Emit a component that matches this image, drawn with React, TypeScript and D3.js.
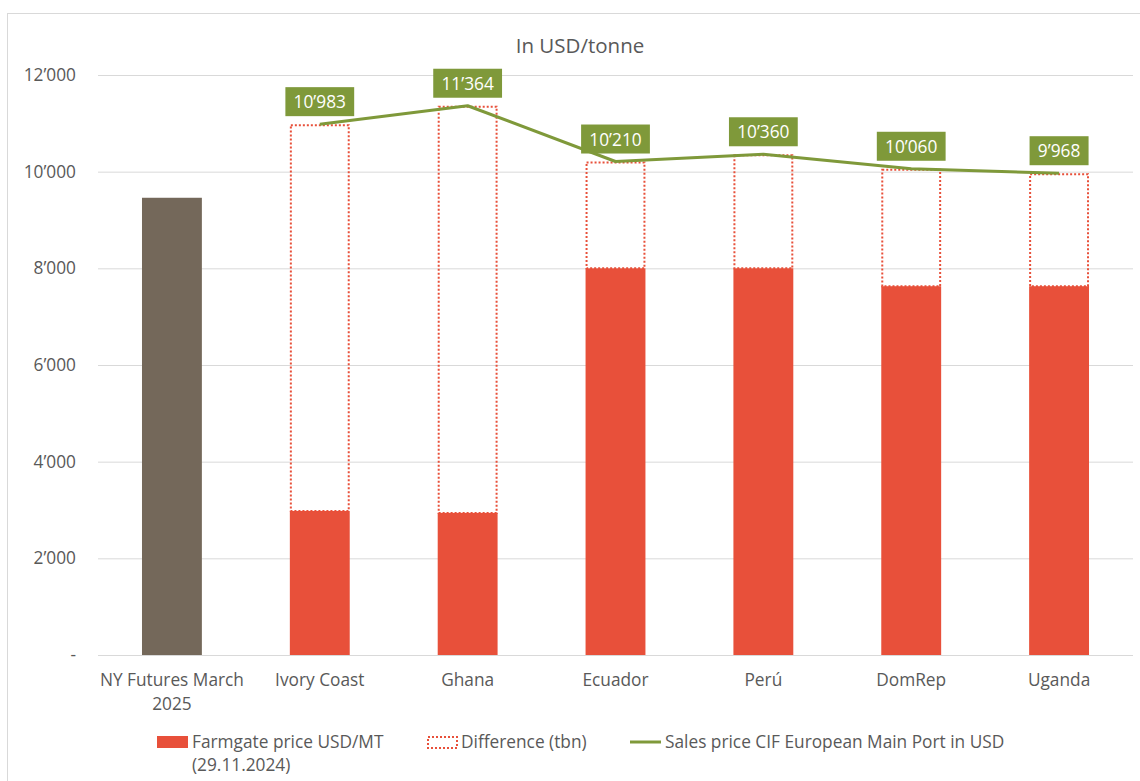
import React from "react";
import * as d3 from "d3";

// categories and values
const categories = ["NY Futures March 2025", "Ivory Coast", "Ghana", "Ecuador", "Perú", "DomRep", "Uganda"];
const futures = [9460, null, null, null, null, null, null];
const farmgate = [null, 2980, 2940, 8000, 8000, 7630, 7630];
const salesPrice = [null, 10983, 11364, 10210, 10360, 10060, 9968];
const yTicks = [0, 2000, 4000, 6000, 8000, 10000, 12000];

const W = 1140, H = 781;
const margin = { left: 98, right: 7, top: 75, bottom: 126 };

const red = "#e8503a";
const brown = "#74685a";
const green = "#7f993a";
const textCol = "#595959";
const font = "'Open Sans', 'Noto Sans', sans-serif";
const fs = 17.3;

const fmt = (v: number) => (v === 0 ? "-" : d3.format(",")(v).replace(/,/g, "\u2019"));

export default function App() {
  const x = d3.scaleBand().domain(categories).range([margin.left, W - margin.right]).paddingInner(0.595).paddingOuter(0.2975);
  const y = d3.scaleLinear().domain([0, 12000]).range([H - margin.bottom, margin.top]);
  const bw = x.bandwidth();
  const cx = (c: string) => (x(c) as number) + bw / 2;

  const linePts = categories
    .map((c, i) => ({ c, v: salesPrice[i] }))
    .filter(d => d.v != null) as { c: string; v: number }[];
  const line = d3.line<{ c: string; v: number }>().x(d => cx(d.c)).y(d => y(d.v));

  return (
    <svg width={W} height={H} style={{ position: "absolute", left: 0, top: 0, fontFamily: font }}>
      <rect x={0} y={0} width={W} height={H} fill="#fff" />
      <rect x={7.5} y={13.5} width={W + 20} height={H + 20} fill="none" stroke="#d9d9d9" />
      <text x={580} y={53} textAnchor="middle" fontSize={20.5} fill={textCol}>In USD/tonne</text>

      {yTicks.map(t => (
        <g key={t}>
          <line x1={margin.left} x2={W - margin.right} y1={y(t) + 0.5} y2={y(t) + 0.5} stroke="#d9d9d9" />
          <text x={76} y={y(t) + 6} textAnchor="end" fontSize={fs} fill={textCol}>{fmt(t)}</text>
        </g>
      ))}

      {categories.map((c, i) => (
        <g key={c}>
          {futures[i] != null && (
            <rect x={x(c)} width={bw} y={y(futures[i] as number)} height={y(0) - y(futures[i] as number)} fill={brown} />
          )}
          {farmgate[i] != null && (
            <rect x={x(c)} width={bw} y={y(farmgate[i] as number)} height={y(0) - y(farmgate[i] as number)} fill={red} />
          )}
          {farmgate[i] != null && salesPrice[i] != null && (
            <rect
              x={(x(c) as number) + 1}
              width={bw - 2}
              y={y(salesPrice[i] as number) + 1}
              height={y(farmgate[i] as number) - y(salesPrice[i] as number) - 1}
              fill="none"
              stroke={red}
              strokeWidth={2}
              strokeDasharray="2 2"
            />
          )}
        </g>
      ))}

      <path d={line(linePts) || ""} fill="none" stroke={green} strokeWidth={3} strokeLinejoin="round" />

      {linePts.map(d => {
        const label = fmt(d.v);
        const bwid = label.length * 9.8 + 10;
        const top = y(d.v) - 37;
        return (
          <g key={d.c}>
            <rect x={cx(d.c) - bwid / 2} y={top} width={bwid} height={29} fill={green} />
            <text x={cx(d.c)} y={top + 21} textAnchor="middle" fontSize={fs} fill="#fff">{label}</text>
          </g>
        );
      })}

      {categories.map(c => {
        const words = c === "NY Futures March 2025" ? ["NY Futures March", "2025"] : [c];
        return (
          <text key={c} x={cx(c)} y={686} textAnchor="middle" fontSize={fs} fill={textCol}>
            {words.map((w, j) => (
              <tspan key={j} x={cx(c)} dy={j === 0 ? 0 : 24}>{w}</tspan>
            ))}
          </text>
        );
      })}

      {/* legend */}
      <g fontSize={fs} fill={textCol}>
        <rect x={157} y={736} width={31} height={12} fill={red} />
        <text x={192} y={748}>
          <tspan x={192}>Farmgate price USD/MT</tspan>
          <tspan x={192} dy={23}>(29.11.2024)</tspan>
        </text>
        <rect x={428} y={737} width={29} height={11} fill="none" stroke={red} strokeWidth={2} strokeDasharray="2 2" />
        <text x={461} y={748}>Difference (tbn)</text>
        <line x1={630} x2={661} y1={742} y2={742} stroke={green} strokeWidth={3} />
        <text x={665} y={748}>Sales price CIF European Main Port in USD</text>
      </g>
    </svg>
  );
}
